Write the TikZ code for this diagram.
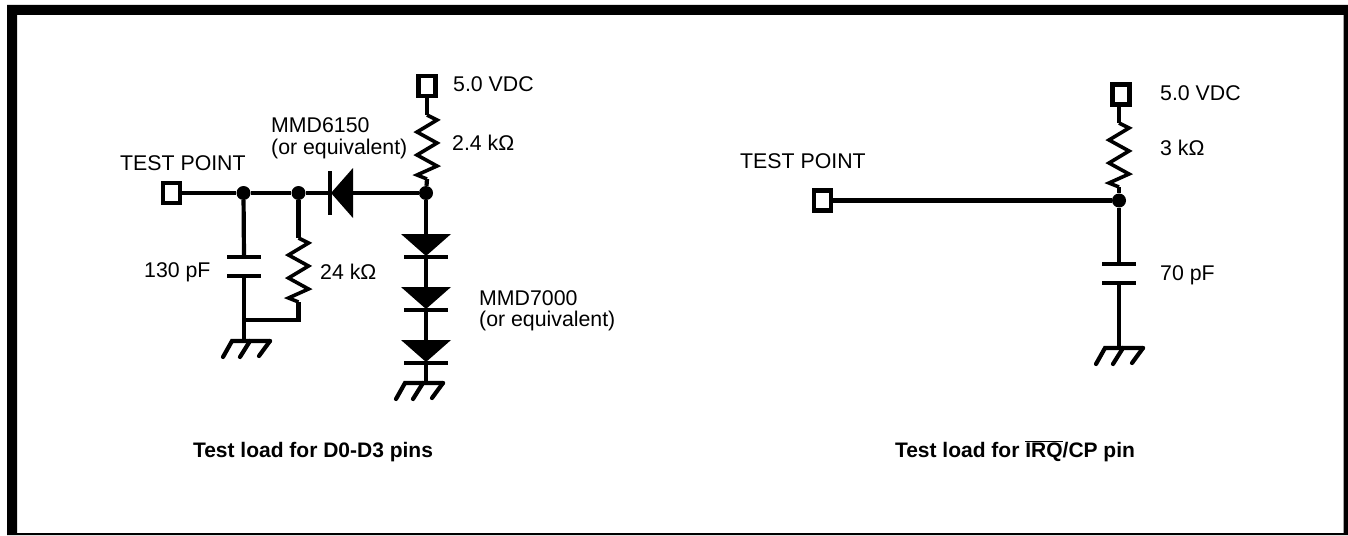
\documentclass[tikz,border=0pt]{standalone}
\usepackage{fontspec}
\setmainfont{Liberation Sans}
\tikzset{
  wire/.style = {line width=4.2pt, black},
  term/.style = {rectangle, draw=black, line width=4.2pt, fill=white,
    inner sep=0pt, minimum width=17pt, minimum height=20pt},
  dot/.style = {circle, fill=black, inner sep=0pt, minimum size=14pt},
  lbl/.style = {anchor=base west, inner sep=0pt, font=\fontsize{21.3}{24}\selectfont},
  title/.style = {anchor=base, inner sep=0pt, font=\fontsize{21}{24}\selectfont\bfseries},
  % vertical zigzag, (-in) on top and (-out) below
  resistor/.pic = {
    \coordinate (-in) at (0,0);
    \coordinate (-out) at (0,64);
    \draw[wire, line width=3.6pt] (0,0) -- (10,5) -- (-10,17) -- (10,28) -- (-10,40)
      -- (10,51) -- (-10,60) -- (0,64);
  },
  diode/.pic = {
    \coordinate (-in) at (0,0);
    \coordinate (-out) at (0,23);
    \fill[black] (-25,0) -- (25,0) -- (0,22) -- cycle;
    \draw[wire] (-22,23) -- (22,23);
  },
  capacitor/.pic = {
    \coordinate (-top) at (0,0);
    \coordinate (-bot) at (0,19);
    \draw[wire] (-17,0) -- (17,0);
    \draw[wire] (-17,19) -- (17,19);
  },
  ground/.pic = {
    \coordinate (-bar) at (0,0);
    \draw[wire, line cap=round] (38,0) -- (0,0) -- (-9,16);
    \draw[wire, line cap=round] (18,0) -- (8,16);
    \draw[wire, line cap=round] (38,0) -- (27,15);
  }
}
\begin{document}
\begin{tikzpicture}[x=1pt, y=-1pt]
  \useasboundingbox (0,0) rectangle (1348,535);
  % outer frame
  \fill[black, even odd rule] (7,5) rectangle (1348,535) (17,15) rectangle (1343.5,533);

  % D0-D3 load
  \node [term] (tp1) at (171.5,193) {};
  \node [term] (vdc1) at (427,86) {};
  \node [dot] (j1) at (243.5,193) {};
  \node [dot] (j2) at (298.5,193) {};
  \node [dot] (j3) at (426,193) {};
  \coordinate (j4) at (244,320);
  \pic (r1) at (427,115) {resistor};
  \pic (r2) at (298.5,238) {resistor};
  \pic (d0) [rotate=-90] at (353,193) {diode};
  \pic (d1) at (426,234) {diode};
  \pic (d2) at (426,287) {diode};
  \pic (d3) at (426,340) {diode};
  \pic (c1) at (244,257) {capacitor};
  \pic (g1) at (232,341) {ground};
  \pic (g2) at (405,383) {ground};

  \draw[wire] (tp1) -- (j1);
  \draw[wire] (j1) -- (j2);
  \draw[wire] (j2) -- (d0-out);
  \draw[wire] (d0-in) -- (j3);
  \draw[wire] (vdc1) -- (r1-in);
  \draw[wire] (r1-out) -- (j3);
  \draw[wire] (j1) -- (c1-top);
  \draw[wire] (c1-bot) -- (c1-bot |- g1-bar);
  \draw[wire] (j2) -- (r2-in);
  \draw[wire] (r2-out) |- (j4);
  \draw[wire] (j3) -- (d1-in);
  \draw[wire] (d1-out) -- (d2-in);
  \draw[wire] (d2-out) -- (d3-in);
  \draw[wire] (d3-out) -- (d3-out |- g2-bar);

  \node [lbl] (ltp1) at (120,170) {TEST POINT};
  \node [lbl] (lvdc1) at (453,92) {5.0 VDC};
  \node [lbl] (lr1) at (452,150) {2.4 kΩ};
  \node [lbl] (ld0a) at (271,132) {MMD6150};
  \node [lbl] (ld0b) at (271,154) {(or equivalent)};
  \node [lbl] (lc1) at (144,277) {130 pF};
  \node [lbl] (lr2) at (320,279) {24 kΩ};
  \node [lbl] (ld1a) at (479,305) {MMD7000};
  \node [lbl] (ld1b) at (479,326) {(or equivalent)};
  \node [title] (title1) at (313,457) {Test load for D0-D3 pins};

  % IRQ/CP load
  \node [term] (tp2) at (822.5,200.5) {};
  \node [term] (vdc2) at (1121,94.5) {};
  \node [dot] (j5) at (1119,200.5) {};
  \pic (r3) at (1119,123) {resistor};
  \pic (c2) at (1119,264) {capacitor};
  \pic (g3) at (1105,348) {ground};

  \draw[wire] (tp2) -- (j5);
  \draw[wire] (vdc2.south -| r3-in) -- (r3-in);
  \draw[wire] (r3-out) -- (j5);
  \draw[wire] (j5) -- (c2-top);
  \draw[wire] (c2-bot) -- (c2-bot |- g3-bar);

  \node [lbl] (ltp2) at (740,168) {TEST POINT};
  \node [lbl] (lvdc2) at (1160,100) {5.0 VDC};
  \node [lbl] (lr3) at (1160,155) {3 kΩ};
  \node [lbl] (lc2) at (1160,280) {70 pF};
  \node [title] (title2) at (1015,457) {Test load for $\overline{\mbox{IRQ}}$/CP pin};
\end{tikzpicture}
\end{document}
